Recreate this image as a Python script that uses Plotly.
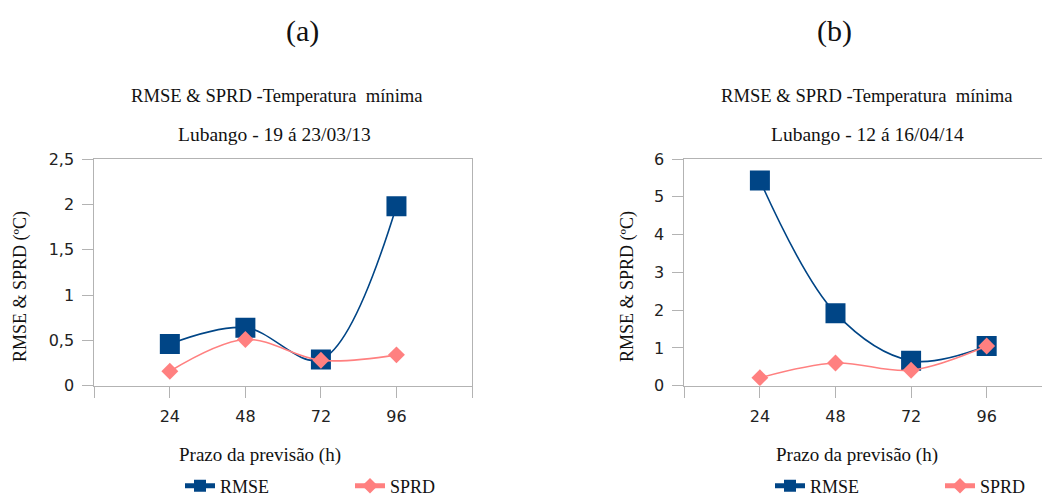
import plotly.graph_objects as go

hours = [24, 48, 72, 96]
x_ticks = [0, 24, 48, 72, 96, 120]
x_ticktext = ["", "24", "48", "72", "96", ""]

rmse_a = [0.46, 0.64, 0.29, 1.98]
sprd_a = [0.16, 0.51, 0.28, 0.34]
rmse_b = [5.43, 1.92, 0.66, 1.05]
sprd_b = [0.21, 0.60, 0.41, 1.05]

panel_labels = ["(a)", "(b)"]
chart_title = "RMSE & SPRD -Temperatura  mínima"
subtitles = ["Lubango - 19 á 23/03/13", "Lubango - 12 á 16/04/14"]
y_title = "RMSE & SPRD (ºC)"
x_title = "Prazo da previsão (h)"

BLUE = "#004586"
PINK = "#ff8080"
GRID = "#b3b3b3"
SERIF = "Liberation Serif"
SANS = "DejaVu Sans"

# page has an 8px body margin: figure fills the rest of the 1050x496 window
OFF = 8
W, H = 1050 - OFF, 496 - OFF

def px(x):
    return (x - OFF) / W

def py(y):
    return 1 - (y - OFF) / H

fig = go.Figure()

def add_series(xa, ya, rmse, sprd, legend):
    fig.add_trace(go.Scatter(
        x=hours, y=rmse, name="RMSE", xaxis=xa, yaxis=ya, legend=legend,
        mode="lines+markers", line=dict(color=BLUE, width=1.6, shape="spline", smoothing=1.0),
        marker=dict(symbol="square", size=20, color=BLUE)))
    fig.add_trace(go.Scatter(
        x=hours, y=sprd, name="SPRD", xaxis=xa, yaxis=ya, legend=legend,
        mode="lines+markers", line=dict(color=PINK, width=1.6, shape="spline", smoothing=1.0),
        marker=dict(symbol="diamond", size=13, color=PINK)))

add_series("x", "y", rmse_a, sprd_a, "legend")
add_series("x2", "y2", rmse_b, sprd_b, "legend2")

ydom = [py(385.7), py(159)]

axis_common = dict(showline=True, linecolor=GRID, linewidth=1, mirror=True,
                   showgrid=False, zeroline=False, ticks="outside", ticklen=11,
                   tickcolor=GRID, automargin=False, ticklabelstandoff=5,
                   tickfont=dict(family=SANS, size=16, color="#222"))

legend_common = dict(orientation="h", y=py(486), xanchor="left", yanchor="middle",
                     font=dict(family=SERIF, size=18, color="#111"), entrywidth=125,
                     entrywidthmode="pixels", bgcolor="rgba(0,0,0,0)",
                     itemsizing="constant")

fig.update_layout(
    width=W, height=H, margin=dict(l=0, r=0, t=0, b=0, autoexpand=False),
    paper_bgcolor="white", plot_bgcolor="white",
    separators=",.",
    showlegend=True,
    xaxis=dict(domain=[px(94.3), px(472)], range=[0, 120], tickvals=x_ticks,
               ticktext=x_ticktext, anchor="y", **axis_common),
    yaxis=dict(domain=ydom, range=[0, 2.5], dtick=0.5, anchor="x", **axis_common),
    xaxis2=dict(domain=[px(684.3), 1.0], range=[0, 116.1], tickvals=x_ticks,
                ticktext=x_ticktext, anchor="y2", **axis_common),
    yaxis2=dict(domain=ydom, range=[0, 6], dtick=1, anchor="x2", **axis_common),
    legend=dict(x=px(180), **legend_common),
    legend2=dict(x=px(770), **legend_common),
)

def ann(text, x, y, size, angle=0):
    fig.add_annotation(text=text, x=px(x), y=py(y), xref="paper", yref="paper",
                       showarrow=False, textangle=angle, xanchor="center", yanchor="middle",
                       font=dict(family=SERIF, size=size, color="#111"))

ann(panel_labels[0], 302, 31, 30)
ann(panel_labels[1], 834, 31, 30)
ann(chart_title, 277, 95, 18.6)
ann(chart_title, 867, 95, 18.6)
ann(subtitles[0], 274, 135, 19.5)
ann(subtitles[1], 867, 135, 19.5)
ann(y_title, 20, 287, 18, -90)
ann(y_title, 627, 287, 18, -90)
ann(x_title, 260, 455, 19)
ann(x_title, 857, 455, 19)

fig.write_html("out.html")
